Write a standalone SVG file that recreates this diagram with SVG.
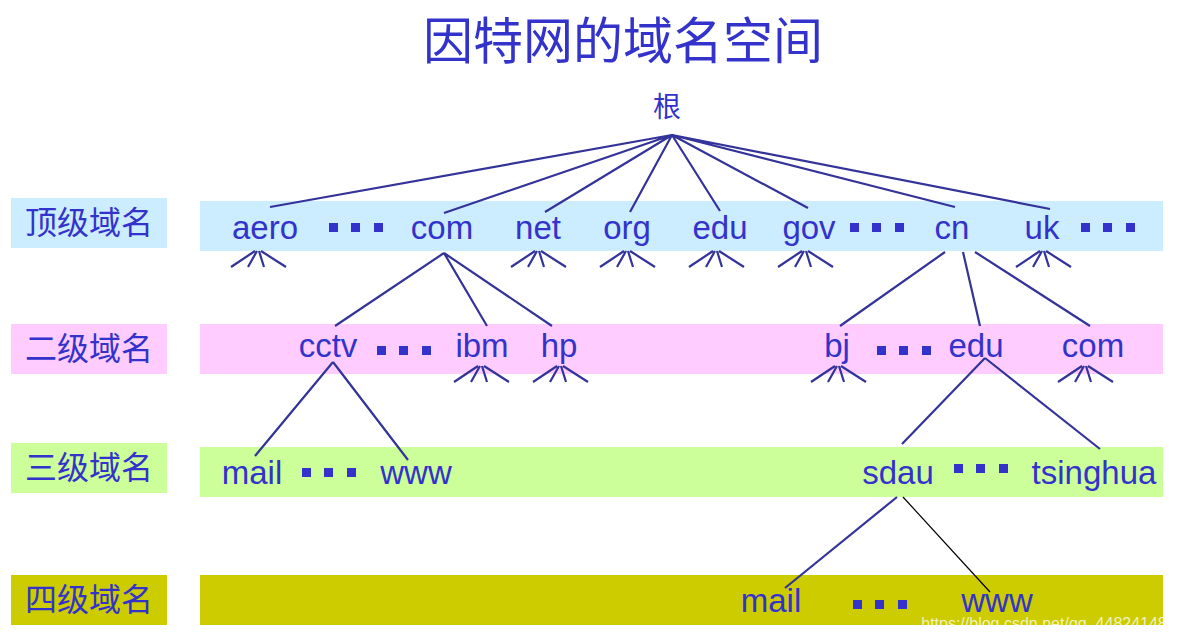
<svg xmlns="http://www.w3.org/2000/svg" width="1177" height="640" viewBox="0 0 1177 640">
<style>
text{font-family:"Liberation Sans",Arial,sans-serif;fill:#3333CC;font-size:33px}
.cjk{font-family:"Noto Sans CJK SC","Liberation Sans",sans-serif}
.lbl{font-size:32px;text-anchor:middle}
.w{text-anchor:middle}
.c line,.c path{stroke:#333399;stroke-width:2.2;fill:none}
.d{fill:#3333CC}
</style>
<defs>
<g id="f"><path d="M-3,0 L-27,16 M-1,0 L-10,16 M1,0 L6,16 M3,0 L28,16" stroke="#333399" stroke-width="2.2" fill="none"/></g>
<g id="dots"><rect x="0" y="0" width="9" height="9"/><rect x="22" y="0" width="9" height="9"/><rect x="45" y="0" width="9" height="9"/></g>
</defs>
<rect width="1177" height="640" fill="#fff"/>
<text x="623" y="59" class="cjk" style="font-size:50px;text-anchor:middle">因特网的域名空间</text>
<g id="bands">
<rect x="200" y="201" width="963" height="50" fill="#CCECFF"/>
<rect x="200" y="324" width="963" height="50" fill="#FFCCFF"/>
<rect x="200" y="447" width="963" height="50" fill="#CCFF99"/>
<rect x="200" y="575" width="963" height="50" fill="#CCCC00"/>
</g>
<g id="labels">
<rect x="11" y="198" width="156" height="50" fill="#CCECFF"/><text x="89" y="234" class="cjk lbl">顶级域名</text>
<rect x="11" y="324" width="156" height="50" fill="#FFCCFF"/><text x="89" y="360" class="cjk lbl">二级域名</text>
<rect x="11" y="443" width="156" height="50" fill="#CCFF99"/><text x="89" y="479" class="cjk lbl">三级域名</text>
<rect x="11" y="575" width="156" height="50" fill="#CCCC00"/><text x="89" y="611" class="cjk lbl">四级域名</text>
</g>
<g id="connectors" class="c">
<path d="M672,135 L270,207 M672,135 L444,213 M672,135 L545,212 M672,135 L630,212 M672,135 L720,211 M672,135 L808,208 M672,135 L955,207 M672,135 L1050,209"/>
<path d="M444,253 L335,326 M444,253 L487,326 M444,253 L552,326"/>
<path d="M945,252 L840,326 M963,252 L980,326 M975,252 L1090,326"/>
<path d="M333,362 L255,456 M333,362 L408,460"/>
<path d="M985,358 L902,444 M985,358 L1100,449"/>
<path d="M897,497 L785,588"/>
<line x1="903" y1="497" x2="990" y2="592" style="stroke:#000;stroke-width:1.2"/>
<use href="#f" x="258" y="251"/><use href="#f" x="538" y="251"/><use href="#f" x="627" y="251"/><use href="#f" x="716" y="251"/><use href="#f" x="805" y="251"/><use href="#f" x="1043" y="251"/>
<use href="#f" x="481" y="366"/><use href="#f" x="560" y="366"/><use href="#f" x="838" y="366"/><use href="#f" x="1085" y="366"/>
</g>
<g id="root"><text x="667" y="117" class="cjk" style="font-size:28px;text-anchor:middle">根</text></g>
<g id="nodes1">
<text x="265" y="239" class="w">aero</text><text x="442" y="239" class="w">com</text><text x="538" y="239" class="w">net</text><text x="627" y="239" class="w">org</text><text x="720" y="239" class="w">edu</text><text x="809" y="239" class="w">gov</text><text x="952" y="239" class="w">cn</text><text x="1042" y="239" class="w">uk</text>
</g>
<g id="nodes2">
<text x="328" y="357" class="w">cctv</text><text x="482" y="357" class="w">ibm</text><text x="559" y="357" class="w">hp</text><text x="837" y="357" class="w">bj</text><text x="976" y="357" class="w">edu</text><text x="1093" y="357" class="w">com</text>
</g>
<g id="nodes3">
<text x="252" y="484" class="w">mail</text><text x="416" y="484" class="w">www</text><text x="898" y="484" class="w">sdau</text><text x="1094" y="484" class="w">tsinghua</text>
</g>
<g id="nodes4">
<text x="771" y="612" class="w">mail</text><text x="997" y="612" class="w">www</text>
</g>
<g id="ellipses" class="d">
<use href="#dots" x="329" y="223"/><use href="#dots" x="850" y="223"/><use href="#dots" x="1081" y="223"/>
<use href="#dots" x="377" y="346"/><use href="#dots" x="877" y="346"/>
<use href="#dots" x="302" y="468"/><use href="#dots" x="954" y="464"/>
<use href="#dots" x="853" y="600"/>
</g>
<text x="1044" y="629" style="font-size:16px;fill:#ffffff;fill-opacity:0.75;text-anchor:middle">https://blog.csdn.net/qq_44824148</text>
</svg>
